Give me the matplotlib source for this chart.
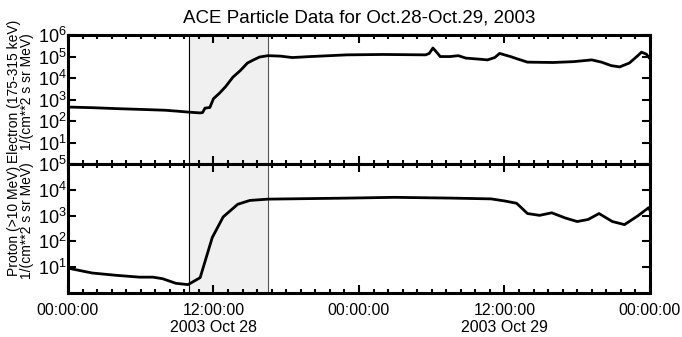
import numpy as np
import matplotlib.pyplot as plt
from matplotlib.ticker import FixedLocator, MultipleLocator, LogLocator, NullFormatter

plt.rcParams['font.family'] = ['Liberation Sans', 'DejaVu Sans']
plt.rcParams['mathtext.fontset'] = 'custom'
plt.rcParams['mathtext.rm'] = 'Liberation Sans'
plt.rcParams['mathtext.it'] = 'Liberation Sans'

# hours since 2003 Oct 28 00:00
elec_hours = [0, 2, 4, 6, 8, 9, 10, 10.9, 11.1, 11.3, 11.7, 12.0, 12.5, 13.0,
              13.6, 14.2, 14.8, 15.3, 15.8, 16.5, 17.5, 18.5, 20, 23, 26, 29.5,
              29.8, 30.1, 30.4, 30.7, 31.5, 32.2, 32.8, 34.0, 34.6, 35.2, 35.6,
              36.0, 36.5, 37.0, 37.9, 40, 41.7, 43.2, 44.0, 44.8, 45.5, 46.3,
              47.0, 47.3, 47.7, 48]
elec_flux = [450, 420, 380, 350, 320, 290, 260, 240, 250, 400, 430, 1100, 2000,
             4000, 1.1e4, 2.2e4, 5e4, 7e4, 9.5e4, 1.1e5, 1.05e5, 9e4, 1.0e5,
             1.2e5, 1.25e5, 1.2e5, 1.4e5, 2.5e5, 1.6e5, 1.0e5, 1.0e5, 1.1e5,
             8.5e4, 7.5e4, 7e4, 9e4, 1.4e5, 1.2e5, 1.0e5, 8e4, 5.5e4, 5.3e4,
             5.8e4, 7e4, 5.5e4, 3.8e4, 3.3e4, 5e4, 1.1e5, 1.6e5, 1.3e5, 8e4]

prot_hours = [0, 2.0, 4.0, 5.9, 7.0, 7.8, 8.9, 9.9, 10.9, 11.9, 12.8, 14.0, 15.0,
              16.5, 23.1, 26.9, 31.6, 34.9, 36.0, 37.0, 37.9, 38.9, 39.9, 41.0,
              42.0, 42.9, 43.8, 44.9, 45.9, 47.0, 47.9, 48.0]
prot_log = [0.96, 0.77, 0.68, 0.61, 0.61, 0.55, 0.37, 0.32, 0.59, 2.15, 2.95,
            3.44, 3.59, 3.64, 3.68, 3.71, 3.68, 3.65, 3.57, 3.48, 3.08, 3.01,
            3.11, 2.91, 2.77, 2.85, 3.08, 2.77, 2.65, 2.99, 3.31, 3.2]
prot_flux = [10 ** v for v in prot_log]

event_start, event_end = 10.0, 16.5
xtick_hours = [0, 12, 24, 36, 48]
xtick_labels = ['00:00:00', '12:00:00\n2003 Oct 28', '00:00:00',
                '12:00:00\n2003 Oct 29', '00:00:00']

fig = plt.figure(figsize=(6.82, 3.37), dpi=100)
ax1 = fig.add_axes([0.0997, 0.513, 0.8533, 0.383])
ax2 = fig.add_axes([0.0997, 0.131, 0.8533, 0.382])

panels = [
    (ax1, elec_hours, elec_flux, (1, 1e6), [10, 1e2, 1e3, 1e4, 1e5, 1e6],
     'Electron (175-315 keV)\n1/(cm**2 s sr MeV)'),
    (ax2, prot_hours, prot_flux, (1, 1e5), [10, 1e2, 1e3, 1e4, 1e5],
     'Proton (>10 MeV)\n1/(cm**2 s sr MeV)'),
]

for ax, hrs, flux, ylim, yticks, ylabel in panels:
    ax.axvspan(event_start, event_end, color='#f0f0f0', zorder=0)
    ax.axvline(event_start, color='black', lw=0.8, zorder=1)
    ax.axvline(event_end, color='#555555', lw=0.8, zorder=1)
    ax.plot(hrs, flux, color='black', lw=2, zorder=3)
    ax.set_yscale('log')
    ax.set_xlim(0, 48)
    ax.set_ylim(*ylim)
    ax.yaxis.set_major_locator(FixedLocator(yticks))
    ax.set_yticklabels(['10$^{%d}$' % round(np.log10(v)) for v in yticks],
                       fontsize=13)
    ax.yaxis.set_minor_locator(LogLocator(base=10, subs=np.arange(2, 10)))
    ax.yaxis.set_minor_formatter(NullFormatter())
    ax.xaxis.set_major_locator(FixedLocator(xtick_hours))
    ax.xaxis.set_minor_locator(MultipleLocator(1.2))
    ax.tick_params(which='both', direction='in', top=True, right=True,
                   width=1.5)
    ax.tick_params(axis='y', pad=1)
    ax.tick_params(axis='x', pad=7)
    ax.tick_params(which='major', length=6)
    ax.tick_params(which='minor', length=3)
    for sp in ax.spines.values():
        sp.set_linewidth(2.2)
    ax.set_ylabel(ylabel, fontsize=10, linespacing=0.95)
    ax.yaxis.set_label_coords(-0.058, 0.56)

ax1.set_xticklabels([])
ax2.set_xticklabels(xtick_labels, fontsize=11.5, linespacing=1.2)
ax1.set_title('ACE Particle Data for Oct.28-Oct.29, 2003', fontsize=13.5, pad=9)

fig.savefig('out.png', dpi=100)
